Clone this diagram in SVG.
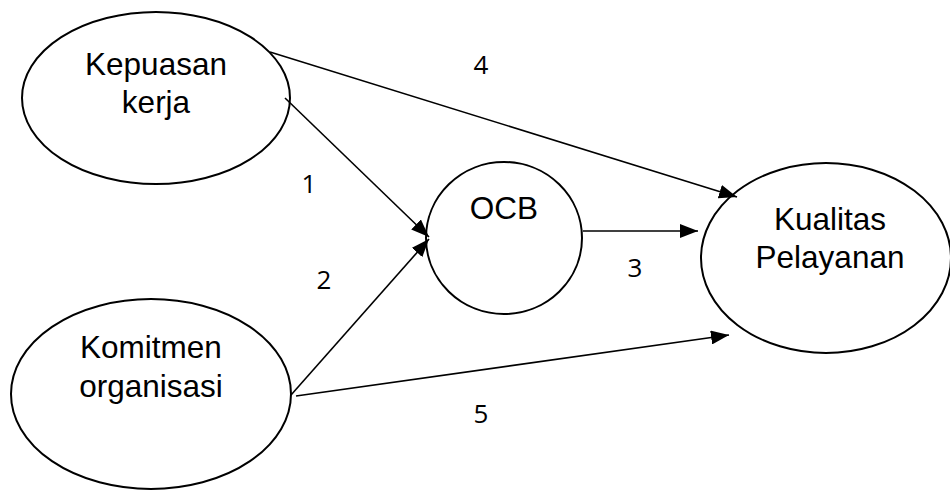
<svg xmlns="http://www.w3.org/2000/svg" width="950" height="490" viewBox="0 0 950 490">
  <style>
    .node { fill: #ffffff; stroke: #000000; stroke-width: 2; }
    .label { font-family: "Liberation Sans", Arial, sans-serif; font-size: 31.5px; fill: #000000; text-anchor: middle; }
    .num { font-family: "Open Sans", "DejaVu Sans", sans-serif; font-size: 26px; fill: #000000; text-anchor: middle; }
    .edge { fill: none; stroke: #000000; stroke-width: 1.6; }
  </style>
  <defs>
    <marker id="arrow" viewBox="0 0 18 14" refX="18" refY="7" markerWidth="18" markerHeight="14" markerUnits="userSpaceOnUse" orient="auto">
      <path d="M0,0 L18,7 L0,14 Z" fill="#000000"/>
    </marker>
  </defs>
  <rect width="950" height="490" fill="#ffffff"/>

  <g id="kepuasan-kerja">
    <ellipse class="node" cx="156" cy="98" rx="134" ry="86"/>
    <text class="label" x="156" y="75">Kepuasan</text>
    <text class="label" x="156" y="113">kerja</text>
  </g>

  <g id="komitmen-organisasi">
    <ellipse class="node" cx="151" cy="394" rx="140" ry="95"/>
    <text class="label" x="151" y="358">Komitmen</text>
    <text class="label" x="151" y="397">organisasi</text>
  </g>

  <g id="ocb">
    <ellipse class="node" cx="504" cy="238" rx="78" ry="76"/>
    <text class="label" x="504" y="219">OCB</text>
  </g>

  <g id="kualitas-pelayanan">
    <ellipse class="node" cx="826" cy="258" rx="125" ry="95"/>
    <text class="label" x="830" y="230">Kualitas</text>
    <text class="label" x="830" y="268">Pelayanan</text>
  </g>

  <g id="connectors">
    <line class="edge" x1="285" y1="98" x2="429" y2="237" marker-end="url(#arrow)"/>
    <line class="edge" x1="291" y1="395" x2="429" y2="239" marker-end="url(#arrow)"/>
    <line class="edge" x1="583" y1="231" x2="698" y2="231" marker-end="url(#arrow)"/>
    <line class="edge" x1="270" y1="52" x2="737" y2="197" marker-end="url(#arrow)"/>
    <line class="edge" x1="296" y1="396" x2="729" y2="335" marker-end="url(#arrow)"/>
    <text class="num" x="309" y="193">1</text>
    <text class="num" x="324" y="289">2</text>
    <text class="num" x="635" y="277">3</text>
    <text class="num" x="481" y="74">4</text>
    <text class="num" x="481" y="423">5</text>
  </g>
</svg>
